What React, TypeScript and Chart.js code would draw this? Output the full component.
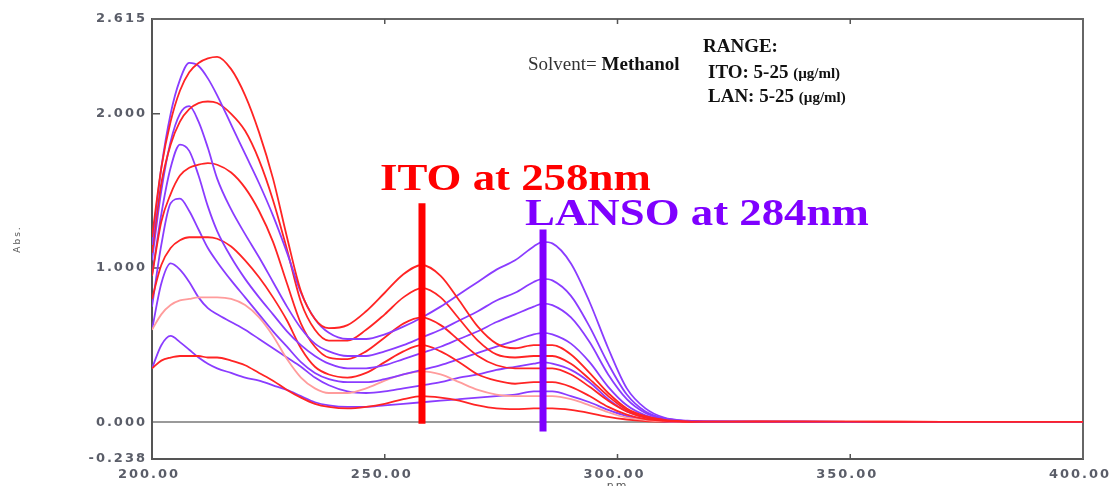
import React, { useEffect, useRef } from 'react';
import { Chart, registerables } from 'chart.js';

Chart.register(...registerables);

// Wavelength grid (nm)
const WAVELENGTHS = [200, 202, 204, 206, 208, 210, 212, 214, 217, 220, 223, 226, 229, 232, 235, 238, 242, 246, 250, 254, 258, 262, 266, 270, 274, 278, 282, 284, 286, 290, 294, 298, 302, 306, 310, 315, 320, 330, 350, 370, 400];

// ITO (red) spectra
const ITO_1 = [1.2, 1.65, 1.95, 2.15, 2.27, 2.33, 2.36, 2.37, 2.29, 2.12, 1.88, 1.58, 1.2, 0.85, 0.67, 0.61, 0.63, 0.72, 0.84, 0.96, 1.02, 0.95, 0.79, 0.62, 0.51, 0.48, 0.5, 0.5, 0.5, 0.44, 0.32, 0.19, 0.09, 0.04, 0.015, 0.006, 0.004, 0.005, 0.004, 0.003, 0.003];
const ITO_2 = [1.1, 1.55, 1.8, 1.95, 2.03, 2.07, 2.08, 2.07, 2.0, 1.89, 1.7, 1.44, 1.12, 0.78, 0.6, 0.53, 0.53, 0.6, 0.7, 0.81, 0.87, 0.81, 0.67, 0.53, 0.44, 0.42, 0.43, 0.43, 0.43, 0.38, 0.28, 0.17, 0.08, 0.035, 0.015, 0.006, 0.004, 0.004, 0.004, 0.003, 0.003];
const ITO_3 = [0.95, 1.3, 1.48, 1.6, 1.65, 1.67, 1.68, 1.67, 1.62, 1.52, 1.37, 1.17, 0.9, 0.64, 0.49, 0.42, 0.41, 0.46, 0.55, 0.64, 0.68, 0.63, 0.53, 0.43, 0.37, 0.35, 0.35, 0.35, 0.35, 0.31, 0.23, 0.14, 0.07, 0.03, 0.012, 0.005, 0.004, 0.004, 0.003, 0.003, 0.003];
const ITO_4 = [0.8, 1.02, 1.13, 1.18, 1.2, 1.2, 1.2, 1.19, 1.14, 1.05, 0.94, 0.81, 0.66, 0.48, 0.36, 0.31, 0.29, 0.32, 0.39, 0.46, 0.5, 0.46, 0.39, 0.31, 0.27, 0.25, 0.26, 0.26, 0.26, 0.23, 0.17, 0.1, 0.05, 0.02, 0.01, 0.004, 0.003, 0.003, 0.003, 0.002, 0.002];
const ITO_5 = [0.6, 0.7, 0.76, 0.79, 0.8, 0.81, 0.81, 0.81, 0.8, 0.76, 0.68, 0.56, 0.41, 0.29, 0.22, 0.19, 0.19, 0.22, 0.27, 0.31, 0.33, 0.31, 0.26, 0.21, 0.18, 0.17, 0.17, 0.17, 0.17, 0.15, 0.11, 0.065, 0.03, 0.015, 0.007, 0.003, 0.002, 0.002, 0.002, 0.002, 0.002];
const ITO_6 = [0.35, 0.4, 0.42, 0.43, 0.43, 0.43, 0.42, 0.42, 0.4, 0.37, 0.32, 0.27, 0.21, 0.16, 0.12, 0.1, 0.09, 0.1, 0.12, 0.15, 0.17, 0.16, 0.14, 0.11, 0.09, 0.085, 0.09, 0.09, 0.09, 0.08, 0.06, 0.035, 0.018, 0.008, 0.004, 0.002, 0.002, 0.002, 0.002, 0.001, 0.001];

// LAN (purple) spectra
const LAN_1 = [1.15, 1.65, 2.0, 2.22, 2.33, 2.31, 2.23, 2.12, 1.93, 1.74, 1.55, 1.34, 1.1, 0.84, 0.67, 0.58, 0.54, 0.54, 0.57, 0.62, 0.68, 0.75, 0.83, 0.91, 0.99, 1.05, 1.14, 1.17, 1.16, 1.03, 0.78, 0.48, 0.22, 0.09, 0.03, 0.01, 0.005, 0.004, 0.003, 0.003, 0.003];
const LAN_2 = [1.05, 1.5, 1.82, 2.0, 2.05, 1.95, 1.78, 1.58, 1.38, 1.22, 1.07, 0.91, 0.75, 0.61, 0.51, 0.46, 0.43, 0.43, 0.46, 0.5, 0.55, 0.6, 0.66, 0.72, 0.79, 0.84, 0.91, 0.93, 0.92, 0.82, 0.62, 0.38, 0.18, 0.07, 0.025, 0.008, 0.004, 0.004, 0.003, 0.003, 0.003];
const LAN_3 = [0.95, 1.35, 1.65, 1.8, 1.76, 1.6, 1.4, 1.24, 1.07, 0.93, 0.81, 0.7, 0.59, 0.5, 0.43, 0.38, 0.35, 0.35, 0.37, 0.41, 0.45, 0.49, 0.54, 0.59, 0.65, 0.7, 0.75, 0.77, 0.76, 0.68, 0.52, 0.31, 0.15, 0.06, 0.02, 0.007, 0.004, 0.003, 0.003, 0.003, 0.003];
const LAN_4 = [0.75, 1.15, 1.42, 1.45, 1.37, 1.25, 1.13, 1.04, 0.92, 0.81, 0.7, 0.59, 0.49, 0.39, 0.32, 0.28, 0.26, 0.26, 0.28, 0.31, 0.34, 0.37, 0.41, 0.45, 0.49, 0.53, 0.57, 0.58, 0.57, 0.51, 0.39, 0.23, 0.11, 0.045, 0.015, 0.005, 0.003, 0.003, 0.003, 0.002, 0.002];
const LAN_5 = [0.6, 0.9, 1.03, 0.99, 0.91, 0.81, 0.74, 0.7, 0.65, 0.6, 0.54, 0.48, 0.42, 0.36, 0.29, 0.24, 0.2, 0.19, 0.2, 0.22, 0.24, 0.26, 0.29, 0.31, 0.34, 0.36, 0.38, 0.39, 0.38, 0.34, 0.26, 0.15, 0.07, 0.03, 0.01, 0.004, 0.003, 0.002, 0.002, 0.002, 0.002];
const LAN_6 = [0.35, 0.5, 0.56, 0.52, 0.47, 0.42, 0.38, 0.35, 0.32, 0.29, 0.27, 0.24, 0.21, 0.17, 0.13, 0.11, 0.1, 0.1, 0.11, 0.12, 0.13, 0.14, 0.15, 0.16, 0.17, 0.18, 0.2, 0.2, 0.2, 0.17, 0.13, 0.08, 0.04, 0.015, 0.005, 0.002, 0.002, 0.002, 0.001, 0.001, 0.001];

// Marker bars: [wavelength, bottom abs, top abs]
const ITO_MARK = [258, -0.01, 1.42];
const LAN_MARK = [284, -0.06, 1.25];

const Y_TICKS = [-0.238, 0, 1, 2, 2.615];
const X_TICKS = [200, 250, 300, 350, 400];

const RED = '#ff2424';
const PINK = '#ff9c9c';
const PURPLE = '#8a3cff';
const BAR_PURPLE = '#7f00ff';

const toPts = (arr: number[]) => arr.map((v, i) => ({ x: WAVELENGTHS[i], y: v }));

const overlay = {
  id: 'overlay',
  beforeDraw(chart: any) {
    const ctx = chart.ctx;
    ctx.fillStyle = '#ffffff';
    ctx.fillRect(0, 0, chart.width, chart.height);
    (ctx as any).letterSpacing = '2px';
  },
  beforeDatasetsDraw(chart: any) {
    const ctx = chart.ctx;
    const { left, right, top, bottom } = chart.chartArea;
    const xs = chart.scales.x;
    const ys = chart.scales.y;
    ctx.save();
    ctx.strokeStyle = '#666';
    ctx.lineWidth = 2;
    ctx.beginPath();
    ctx.moveTo(left, top);
    ctx.lineTo(right, top);
    ctx.lineTo(right, bottom);
    ctx.stroke();
    ctx.lineWidth = 1.5;
    ctx.strokeStyle = '#555';
    ctx.beginPath();
    [1, 2].forEach((v) => {
      const y = ys.getPixelForValue(v);
      ctx.moveTo(left, y);
      ctx.lineTo(left + 8, y);
    });
    [250, 300, 350].forEach((v) => {
      const x = xs.getPixelForValue(v);
      ctx.moveTo(x, bottom);
      ctx.lineTo(x, bottom - 5);
      ctx.moveTo(x, top);
      ctx.lineTo(x, top + 5);
    });
    ctx.stroke();
    ctx.restore();
  },
  afterDraw(chart: any) {
    const ctx = chart.ctx;
    (ctx as any).letterSpacing = '0px';
    const xs = chart.scales.x;
    const ys = chart.scales.y;
    ctx.save();
    ctx.textBaseline = 'alphabetic';
    ctx.textAlign = 'left';
    const serif = '"Liberation Serif", "Times New Roman", serif';
    const put = (t: string, x: number, y: number, font: string, color: string, sx = 1) => {
      ctx.save();
      ctx.font = font;
      ctx.fillStyle = color;
      ctx.translate(x, y);
      ctx.scale(sx, 1);
      ctx.fillText(t, 0, 0);
      const w = ctx.measureText(t).width * sx;
      ctx.restore();
      return w;
    };
    let w = put('Solvent= ', 528, 70, `19px ${serif}`, '#333');
    put('Methanol', 528 + w, 70, `bold 19px ${serif}`, '#111');
    put('RANGE:', 703, 52, `bold 19px ${serif}`, '#111');
    w = put('ITO: 5-25 ', 708, 78, `bold 19px ${serif}`, '#111');
    put('(µg/ml)', 708 + w, 78, `bold 15px ${serif}`, '#111');
    w = put('LAN: 5-25 ', 708, 101.5, `bold 19px ${serif}`, '#111');
    put('(µg/ml)', 708 + w, 101.5, `bold 15px ${serif}`, '#111');

    const ix = xs.getPixelForValue(ITO_MARK[0]);
    put('ITO at 258nm', ix - 42, ys.getPixelForValue(ITO_MARK[2]) - 13, `bold 38px ${serif}`, '#ff0000', 1.18);
    const lx = xs.getPixelForValue(LAN_MARK[0]);
    put('LANSO at 284nm', lx - 18, ys.getPixelForValue(LAN_MARK[2]) - 5, `bold 38px ${serif}`, BAR_PURPLE, 1.18);
    ctx.restore();
  },
};

export default function App() {
  const ref = useRef<HTMLCanvasElement | null>(null);
  useEffect(() => {
    if (!ref.current) return;
    const lineDs = (label: string, arr: number[], color: string) => ({
      label,
      data: toPts(arr),
      borderColor: color,
      backgroundColor: color,
      borderWidth: 1.8,
      pointRadius: 0,
      cubicInterpolationMode: 'monotone' as const,
      fill: false,
    });
    const barDs = (label: string, m: number[], color: string) => ({
      label,
      data: [{ x: m[0], y: m[1] }, { x: m[0], y: m[2] }],
      borderColor: color,
      backgroundColor: color,
      borderWidth: 7,
      pointRadius: 0,
      fill: false,
    });
    const chart = new Chart(ref.current, {
      type: 'line',
      data: {
        datasets: [
          barDs('ITO 258 nm', ITO_MARK, '#ff0000'),
          barDs('LANSO 284 nm', LAN_MARK, BAR_PURPLE),
          lineDs('ITO 1', ITO_1, RED),
          lineDs('LAN 1', LAN_1, PURPLE),
          lineDs('ITO 2', ITO_2, RED),
          lineDs('LAN 2', LAN_2, PURPLE),
          lineDs('ITO 3', ITO_3, RED),
          lineDs('LAN 3', LAN_3, PURPLE),
          lineDs('ITO 4', ITO_4, RED),
          lineDs('LAN 4', LAN_4, PURPLE),
          lineDs('ITO 5', ITO_5, PINK),
          lineDs('LAN 5', LAN_5, PURPLE),
          lineDs('ITO 6', ITO_6, RED),
          lineDs('LAN 6', LAN_6, PURPLE),
        ],
      },
      options: {
        animation: false,
        responsive: false,
        devicePixelRatio: 1,
        layout: { padding: { left: 0, right: 28, top: 19, bottom: 0 } },
        plugins: { legend: { display: false }, tooltip: { enabled: false } },
        scales: {
          x: {
            type: 'linear',
            min: 200,
            max: 400,
            afterBuildTicks: (s: any) => {
              s.ticks = X_TICKS.map((v) => ({ value: v }));
            },
            afterFit: (s: any) => {
              s.height = 41;
              s.paddingLeft = 0;
              s.paddingRight = 0;
            },
            grid: { display: false },
            border: { display: true, color: '#555', width: 2 },
            ticks: {
              callback: (v: any) => Number(v).toFixed(2),
              font: { family: '"DejaVu Sans", sans-serif', size: 13, weight: 'bold' },
              color: '#5a5d68',
              padding: 0,
              labelOffset: -3,
              maxRotation: 0,
              autoSkip: false,
            },
            title: {
              display: true,
              text: 'nm',
              font: { family: '"DejaVu Sans", sans-serif', size: 11 },
              color: '#555',
              padding: { top: 0, bottom: 7 },
            },
          },
          y: {
            type: 'linear',
            min: -0.238,
            max: 2.615,
            afterBuildTicks: (s: any) => {
              s.ticks = Y_TICKS.map((v) => ({ value: v }));
            },
            afterFit: (s: any) => {
              s.width = 152;
            },
            grid: {
              display: true,
              drawTicks: false,
              color: (c: any) => (c.tick && c.tick.value === 0 ? '#9a9a9a' : 'rgba(0,0,0,0)'),
              lineWidth: 2,
            },
            border: { display: true, color: '#555', width: 2 },
            ticks: {
              callback: (v: any) => Number(v).toFixed(3),
              font: { family: '"DejaVu Sans", sans-serif', size: 13, weight: 'bold' },
              color: '#5a5d68',
              padding: 5,
              autoSkip: false,
            },
            title: {
              display: true,
              text: 'Abs.',
              font: { family: '"DejaVu Sans", sans-serif', size: 9 },
              color: '#555',
              padding: { top: 12, bottom: 0 },
            },
          },
        },
      },
      plugins: [overlay],
    });
    return () => chart.destroy();
  }, []);
  return (
    <div style={{ position: 'fixed', left: 0, top: 0, width: 1111, height: 486, overflow: 'hidden', background: '#fff' }}>
      <canvas ref={ref} width={1111} height={500} style={{ display: 'block' }} />
    </div>
  );
}
